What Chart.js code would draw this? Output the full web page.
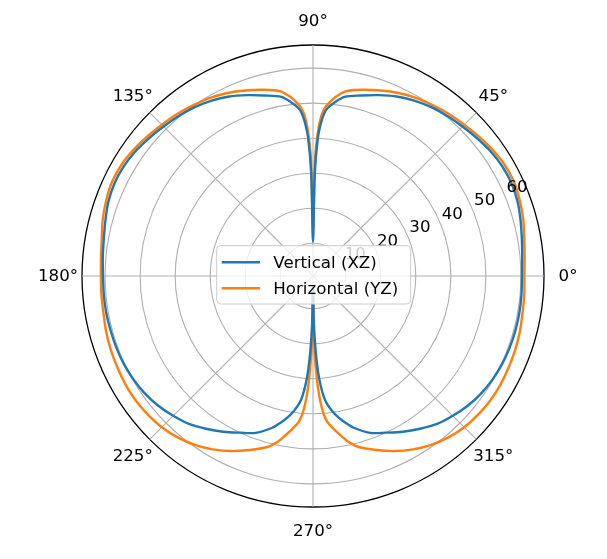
<!DOCTYPE html>
<html>
<head>
<meta charset="utf-8">
<script src="https://cdn.jsdelivr.net/npm/chart.js@4.4.1/dist/chart.umd.min.js"></script>
<style>
  html, body { margin: 0; padding: 0; background: #fff; }
  #wrap { width: 607px; height: 559px; }
</style>
</head>
<body>
<div id="wrap"><canvas id="polar" width="607" height="559"></canvas></div>
<script>
// Antenna pattern, polar plot (0° at right, counter-clockwise)
const patternAngles = [
  0, 5, 10, 15, 20, 25, 30, 35, 40, 45, 50, 55, 60, 65, 70, 75, 80,
  83, 85, 86, 87, 88, 89, 90, 91, 92, 93, 94, 95, 97,
  100, 105, 110, 115, 120, 125, 130, 135, 140, 145, 150, 155, 160, 165, 170, 175, 180,
  185, 190, 195, 200, 205, 210, 215, 220, 225, 230, 235, 240, 245, 250, 255,
  258, 260, 262, 264, 265, 266, 267, 268, 269, 270, 271, 272, 273, 274, 275, 276, 278, 280, 282,
  285, 290, 295, 300, 305, 310, 315, 320, 325, 330, 335, 340, 345, 350, 355
];
const verticalXZ = [
  60.3, 60.6, 61.2, 62.0, 62.8, 63.2, 63.1, 62.6, 61.8, 61.0, 60.3, 59.5, 58.5, 57.2, 55.6, 54.0, 52.6,
  50.5, 48.8, 47.3, 44.5, 40.0, 30.0, 10.5, 30.0, 40.0, 44.5, 47.3, 48.8, 50.5,
  52.6, 54.0, 55.6, 57.2, 58.5, 59.5, 60.3, 61.0, 61.8, 62.6, 63.1, 63.2, 62.8, 62.0, 61.3, 60.9, 60.6,
  60.6, 60.6, 60.5, 60.4, 60.2, 59.8, 59.2, 58.3, 57.1, 55.8, 53.9, 52.0, 50.0, 48.3, 45.5,
  43.2, 41.5, 39.5, 37.0, 35.0, 32.0, 28.0, 22.0, 14.0, 4.0, 14.0, 22.0, 28.0, 32.0, 35.0, 37.0, 39.5, 41.5, 43.2,
  45.5, 48.3, 50.0, 52.0, 53.9, 55.8, 57.1, 58.3, 59.2, 59.8, 60.2, 60.4, 60.5, 60.5, 60.4
];
const horizontalYZ = [
  61.0, 61.3, 61.9, 62.8, 63.5, 64.0, 63.9, 63.3, 62.5, 61.7, 61.0, 60.2, 59.4, 58.3, 57.0, 55.7, 54.2,
  52.0, 50.0, 48.7, 46.5, 42.0, 34.0, 13.3, 34.0, 42.0, 46.5, 48.7, 50.0, 52.0,
  54.2, 55.7, 57.0, 58.3, 59.4, 60.2, 61.0, 61.7, 62.5, 63.3, 63.9, 64.0, 63.5, 62.8, 61.9, 61.4, 61.2,
  61.3, 61.4, 61.8, 62.1, 62.3, 62.5, 62.5, 62.2, 61.7, 60.8, 59.5, 57.8, 55.8, 53.5, 51.2,
  49.0, 47.0, 45.0, 43.0, 41.5, 39.0, 35.0, 29.0, 20.0, 4.0, 20.0, 29.0, 35.0, 39.0, 41.5, 43.0, 45.0, 47.0, 49.0,
  51.2, 53.5, 55.8, 57.8, 59.5, 60.8, 61.7, 62.2, 62.5, 62.5, 62.3, 62.1, 61.8, 61.4, 61.2
];
const radialTicks = [10, 20, 30, 40, 50, 60];
const angleTicks = [0, 45, 90, 135, 180, 225, 270, 315];
const R_MIN = 0.66;
const R_MAX = 66.6;

const FONT = '16.67px "DejaVu Sans", sans-serif';
const SPOKES = 360; // one radar spoke per degree

// radar goes clockwise from startAngle, so spoke i sits at -i degrees
const spokeOf = deg => (SPOKES - deg) % SPOKES;

function toSpokes(angles, values) {
  const out = new Array(SPOKES).fill(null);
  angles.forEach((a, k) => { out[spokeOf(a)] = values[k]; });
  return out;
}

const polarText = {
  id: 'polarText',
  afterDatasetsDraw(chart) {
    const ctx = chart.ctx;
    const r = chart.scales.r;
    ctx.save();
    ctx.font = FONT;
    ctx.fillStyle = '#000';
    ctx.textAlign = 'center';
    ctx.textBaseline = 'alphabetic';

    // radial tick labels along 22.5°
    const a = 22.5 * Math.PI / 180;
    radialTicks.forEach(v => {
      const d = r.getDistanceFromCenterForValue(v);
      const x = r.xCenter + d * Math.cos(a) + 12;
      const y = r.yCenter - d * Math.sin(a) - 10.5;
      ctx.fillText(String(v), x, y + 6);
    });

    // angle labels
    angleTicks.forEach(t => {
      const p = r.getPointPosition(spokeOf(t), r.drawingArea + 24);
      ctx.fillText(t + '°', p.x, p.y + 5);
    });

    // legend in the middle
    const cx = r.xCenter, cy = r.yCenter;
    const x0 = cx - 96.3, x1 = cx + 97.7, y0 = cy - 30.3, y1 = cy + 28;
    const rad = 4;
    ctx.beginPath();
    ctx.moveTo(x0 + rad, y0);
    ctx.lineTo(x1 - rad, y0);
    ctx.arcTo(x1, y0, x1, y0 + rad, rad);
    ctx.lineTo(x1, y1 - rad);
    ctx.arcTo(x1, y1, x1 - rad, y1, rad);
    ctx.lineTo(x0 + rad, y1);
    ctx.arcTo(x0, y1, x0, y1 - rad, rad);
    ctx.lineTo(x0, y0 + rad);
    ctx.arcTo(x0, y0, x0 + rad, y0, rad);
    ctx.closePath();
    ctx.fillStyle = 'rgba(255,255,255,0.8)';
    ctx.fill();
    ctx.strokeStyle = '#cccccc';
    ctx.lineWidth = 1;
    ctx.stroke();

    ctx.textAlign = 'left';
    chart.data.datasets.forEach((ds, i) => {
      const ly = cy - 13.7 + i * 26;
      ctx.beginPath();
      ctx.moveTo(cx - 91.3, ly);
      ctx.lineTo(cx - 53, ly);
      ctx.strokeStyle = ds.borderColor;
      ctx.lineWidth = 2.4;
      ctx.stroke();
      ctx.fillStyle = '#000';
      ctx.fillText(ds.label, cx - 39.7, ly + 6);
    });
    ctx.restore();
  }
};

new Chart(document.getElementById('polar'), {
  type: 'radar',
  data: {
    labels: Array.from({ length: SPOKES }, (_, i) => spokeOf(i)),
    datasets: [
      {
        label: 'Vertical (XZ)',
        data: toSpokes(patternAngles, verticalXZ),
        borderColor: '#1f77b4',
        backgroundColor: '#1f77b4'
      },
      {
        label: 'Horizontal (YZ)',
        data: toSpokes(patternAngles, horizontalYZ),
        borderColor: '#ff7f0e',
        backgroundColor: '#ff7f0e'
      }
    ]
  },
  options: {
    responsive: false,
    animation: false,
    spanGaps: true,
    layout: { padding: { left: 82, top: 45, right: 63, bottom: 52 } },
    elements: {
      point: { radius: 0, hoverRadius: 0 },
      line: { borderWidth: 2.4, tension: 0.3, fill: false, spanGaps: true, borderJoinStyle: 'round' }
    },
    plugins: { legend: { display: false }, tooltip: { enabled: false } },
    scales: {
      r: {
        min: R_MIN,
        max: R_MAX,
        startAngle: 90,
        ticks: { display: false },
        afterBuildTicks: s => { s.ticks = [R_MIN, ...radialTicks, R_MAX].map(v => ({ value: v })); },
        grid: {
          circular: true,
          color: c => (c.tick && c.tick.value === R_MAX ? '#000000' : '#b0b0b0'),
          lineWidth: c => (c.tick && c.tick.value === R_MAX ? 1.3 : 1.1)
        },
        angleLines: {
          color: '#b0b0b0',
          lineWidth: c => (angleTicks.includes(spokeOf(c.index)) ? 1.1 : 0)
        },
        pointLabels: { display: false }
      }
    }
  },
  plugins: [polarText]
});
</script>
</body>
</html>
